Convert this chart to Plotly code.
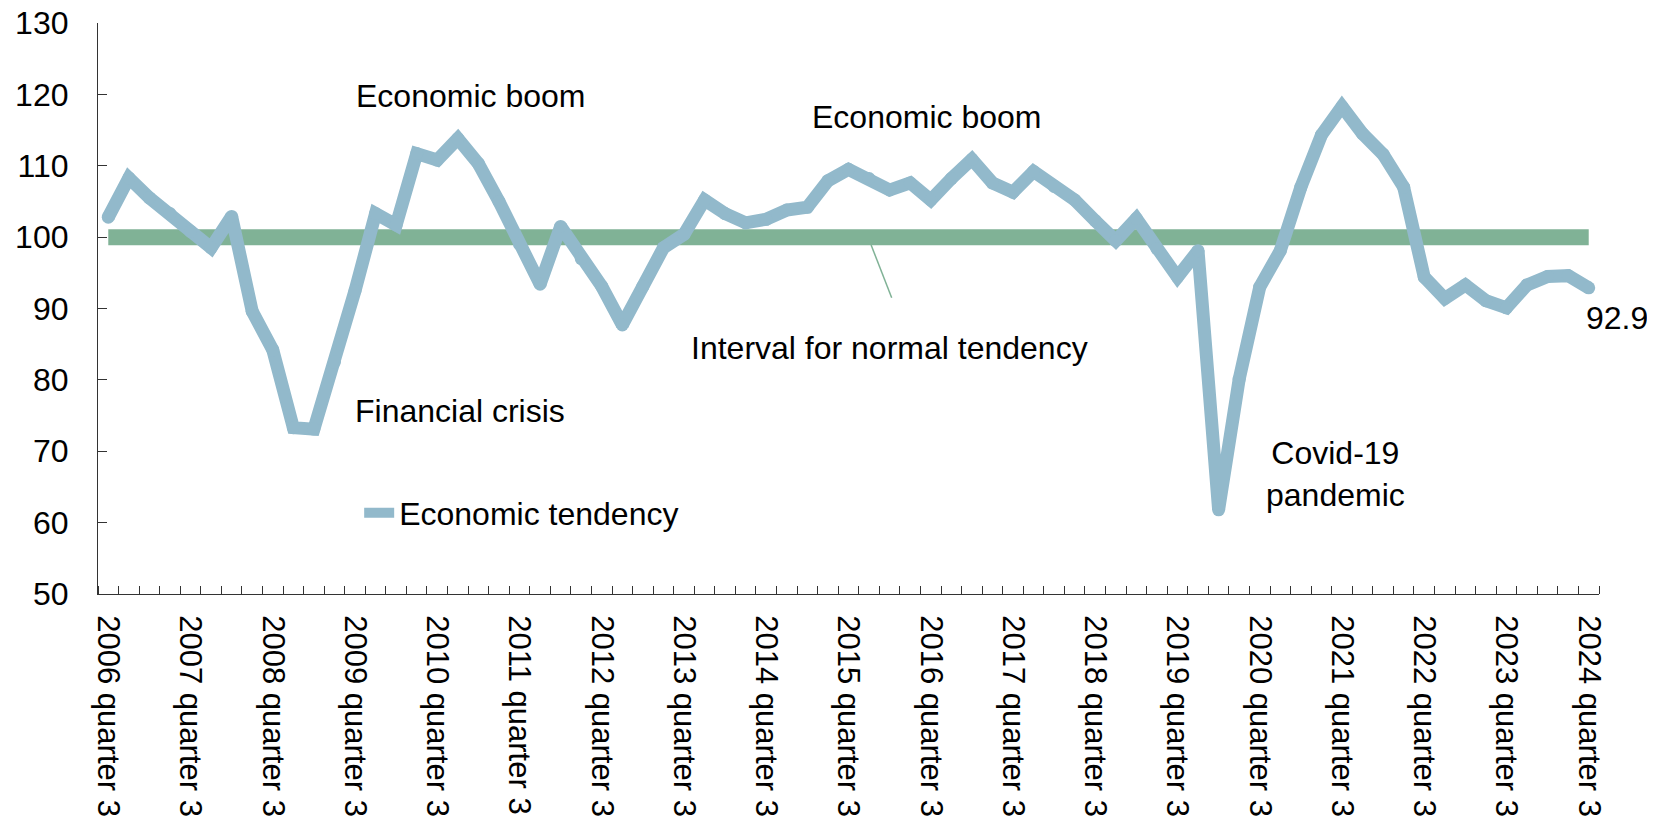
import plotly.graph_objects as go

# quarterly economic tendency indicator, 2006 Q3 .. 2024 Q3
years = list(range(2006, 2025))
quarters = [f"{y} quarter {q}" for y in years for q in (1, 2, 3, 4)][2:-1]

tendency = [
    102.8, 108.3, 105.5, 103.3, 100.8, 98.5, 102.9, 89.6, 84.2, 73.3,
    73.1, 82.5, 92.5, 103.3, 101.7, 111.7, 110.8, 113.8, 110.3, 105.0,
    99.0, 93.4, 101.5, 97.0, 93.1, 87.7, 93.1, 98.5, 100.4, 105.2,
    103.3, 102.0, 102.5, 103.8, 104.2, 107.9, 109.5, 108.2, 106.6, 107.6,
    105.2, 108.2, 110.9, 107.6, 106.3, 109.2, 107.1, 105.2, 102.3, 99.5,
    102.6, 98.4, 94.4, 98.1, 61.8, 80.1, 93.0, 98.1, 107.0, 114.3,
    118.3, 114.5, 111.6, 107.0, 94.4, 91.4, 93.3, 91.1, 90.1, 93.3,
    94.5, 94.6, 92.9,
]
normal_level = 100

y_ticks = [50, 60, 70, 80, 90, 100, 110, 120, 130]

FONT = "Liberation Sans, Arial, sans-serif"
BLUE = "#92B9CB"
GREEN = "#80B296"
FS = 32

x = list(range(len(tendency)))
label_idx = [i for i, q in enumerate(quarters) if q.endswith("quarter 3")]

fig = go.Figure()

# normal tendency band
fig.add_trace(go.Scatter(
    x=[x[0], x[-1]], y=[normal_level, normal_level],
    mode="lines", line=dict(color=GREEN, width=16),
    showlegend=False, hoverinfo="skip",
))

fig.add_trace(go.Scatter(
    x=x, y=tendency, mode="lines",
    name="Economic tendency",
    line=dict(color=BLUE, width=13),
))
# dots the size of the line width round off the joins
fig.add_trace(go.Scatter(
    x=x, y=tendency, mode="markers",
    marker=dict(color=BLUE, size=13, line=dict(width=0)),
    showlegend=False, hoverinfo="skip",
))

# leader line for the band label
fig.add_shape(type="line", xref="x", yref="y",
              x0=37.1, y0=98.9, x1=38.1, y1=91.5,
              line=dict(color=GREEN, width=1.5))

notes = [
    ("Economic boom", 17.6, 119.8, "center"),
    ("Economic boom", 39.8, 116.8, "center"),
    ("Financial crisis", 17.1, 75.6, "center"),
    ("Interval for normal tendency", 38.0, 84.4, "center"),
    ("Covid-19<br>pandemic", 59.7, 66.8, "center"),
    (f"{tendency[-1]}", 71.75, 88.6, "left"),
]
for txt, ax_, ay_, anchor in notes:
    fig.add_annotation(x=ax_, y=ay_, xref="x", yref="y", text=txt,
                       showarrow=False, xanchor=anchor, yanchor="middle",
                       font=dict(size=FS, color="black", family=FONT))

# the page body adds an 8px offset, size and margins compensate for it
fig.update_layout(
    width=1647, height=822,
    paper_bgcolor="white", plot_bgcolor="white",
    margin=dict(l=90, r=56, t=15, b=236, autoexpand=False),
    font=dict(family=FONT, size=FS, color="black"),
    showlegend=True,
    legend=dict(x=0.174, y=0.142, xanchor="left", yanchor="middle",
                bgcolor="rgba(0,0,0,0)", font=dict(size=FS)),
    xaxis=dict(
        automargin=False,
        range=[-0.5, len(tendency) - 0.5],
        tickmode="array", tickvals=label_idx,
        ticktext=[quarters[i] for i in label_idx],
        tickangle=90, ticks="", showgrid=False, zeroline=False,
        showline=True, linecolor="#333", linewidth=1.2,
        ticklabelstandoff=14, tickfont=dict(size=31),
        ticklabeloverflow="allow",
        minor=dict(tickmode="array",
                   tickvals=[i - 0.5 for i in range(len(tendency) + 1)],
                   ticks="inside", ticklen=8, tickcolor="#333",
                   tickwidth=1, showgrid=False),
    ),
    yaxis=dict(
        automargin=False,
        range=[50, 130], tickmode="array", tickvals=y_ticks,
        ticks="inside", ticklen=9, tickcolor="#333",
        showgrid=False, zeroline=False,
        showline=True, linecolor="#333", linewidth=1.2,
        ticklabelstandoff=22, ticklabeloverflow="allow",
    ),
)

fig.write_html("out.html")
